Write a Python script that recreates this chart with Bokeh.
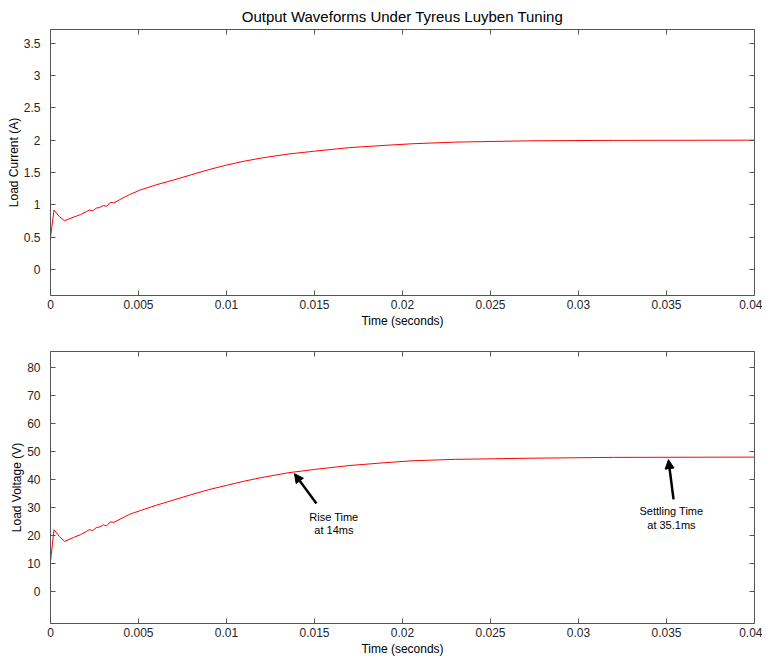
from bokeh.plotting import figure
from bokeh.layouts import column
from bokeh.models import LinearAxis, FixedTicker, Arrow, NormalHead, ColumnDataSource, Range1d
from bokeh.core.properties import value
from bokeh.embed import file_html
from bokeh.resources import INLINE

# ---- data ----
time_s = [0.0, 0.0002, 0.0005, 0.0008, 0.0013, 0.0017, 0.0020, 0.0022, 0.0024, 0.0026,
          0.0028, 0.0030, 0.0032, 0.0034, 0.0036, 0.0040, 0.0045, 0.0051, 0.006, 0.007,
          0.008, 0.009, 0.010, 0.011, 0.012, 0.0135, 0.015, 0.017, 0.019, 0.0206,
          0.023, 0.0272, 0.032, 0.040]
load_current = [0.50, 0.92, 0.82, 0.755, 0.81, 0.85, 0.89, 0.92, 0.91, 0.95,
                0.96, 0.99, 0.98, 1.04, 1.03, 1.09, 1.16, 1.23, 1.31, 1.385,
                1.465, 1.545, 1.615, 1.675, 1.725, 1.785, 1.83, 1.885, 1.92, 1.945,
                1.97, 1.99, 1.997, 2.0]
load_voltage = [10.8, 22.1, 19.7, 17.9, 19.3, 20.3, 21.3, 22.1, 21.8, 22.8,
                23.1, 23.8, 23.5, 24.9, 24.7, 26.0, 27.6, 28.9, 30.8, 32.7,
                34.6, 36.4, 37.9, 39.4, 40.7, 42.4, 43.6, 45.0, 46.0, 46.7,
                47.2, 47.6, 47.9, 48.0]

x_ticks = [0, 0.005, 0.01, 0.015, 0.02, 0.025, 0.03, 0.035, 0.04]
x_tick_labels = ["0", "0.005", "0.01", "0.015", "0.02", "0.025", "0.03", "0.035", "0.04"]
i_ticks = [0, 0.5, 1, 1.5, 2, 2.5, 3, 3.5]
i_tick_labels = ["0", "0.5", "1", "1.5", "2", "2.5", "3", "3.5"]
v_ticks = [0, 10, 20, 30, 40, 50, 60, 70, 80]
v_tick_labels = ["0", "10", "20", "30", "40", "50", "60", "70", "80"]

# annotations: head point, tail point, text position
ann_head_t = [0.01386, 0.03511]
ann_head_v = [42.1, 47.1]
ann_tail_t = [0.01511, 0.0354]
ann_tail_v = [31.4, 32.9]
ann_text_t = [0.0161, 0.03528]
ann_text_v = [24.3, 26.3]
ann_text = ["Rise Time\nat 14ms", "Settling Time\nat 35.1ms"]

FONT = "Liberation Sans"
AXC = "#555555"
TXT = "#262626"


def style(p, xt, xl, yt, yl, ylabel):
    for ax in (p.xaxis[0], p.yaxis[0]):
        ax.axis_line_color = AXC
        ax.major_tick_line_color = AXC
        ax.major_tick_in = 5
        ax.major_tick_out = 0
        ax.minor_tick_line_color = None
        ax.major_label_text_font = FONT
        ax.major_label_text_font_size = "12px"
        ax.major_label_text_color = TXT
        ax.axis_label_text_font = FONT
        ax.axis_label_text_font_size = "12px"
        ax.axis_label_text_font_style = "normal"
        ax.axis_label_text_color = "#000000"
    p.xaxis[0].ticker = FixedTicker(ticks=xt)
    p.xaxis[0].major_label_overrides = {t: l for t, l in zip(xt, xl)}
    p.yaxis[0].ticker = FixedTicker(ticks=yt)
    p.yaxis[0].major_label_overrides = {t: l for t, l in zip(yt, yl)}
    p.xaxis[0].axis_label = "Time (seconds)"
    p.yaxis[0].axis_label = ylabel
    p.xaxis[0].major_label_standoff = 4
    p.xaxis[0].axis_label_standoff = 2
    p.yaxis[0].major_label_standoff = 10
    p.yaxis[0].axis_label_standoff = 0
    for loc, ticks in (("right", yt), ("above", xt)):
        ax = LinearAxis(ticker=FixedTicker(ticks=ticks))
        ax.major_label_text_font_size = "0px"
        ax.major_label_text_color = None
        ax.major_label_standoff = 0
        ax.axis_line_color = AXC
        ax.major_tick_line_color = AXC
        ax.major_tick_in = 5
        ax.major_tick_out = 0
        ax.minor_tick_line_color = None
        p.add_layout(ax, loc)
    p.grid.visible = False
    p.outline_line_color = None
    p.background_fill_color = "white"
    p.border_fill_color = "white"


p1 = figure(frame_width=704, frame_height=266, output_backend="svg", toolbar_location=None,
            x_range=Range1d(0, 0.04), y_range=Range1d(-0.40, 3.71),
            min_border_left=50, min_border_right=8, min_border_top=22, min_border_bottom=40,
            title="Output Waveforms Under Tyreus Luyben Tuning")
p1.title.align = "center"
p1.title.text_font = FONT
p1.title.text_font_size = "15px"
p1.title.text_font_style = "normal"
p1.title.text_color = "#000000"
p1.line(time_s, load_current, line_color="#ff0000", line_width=1)
style(p1, x_ticks, x_tick_labels, i_ticks, i_tick_labels, "Load Current (A)")

p2 = figure(frame_width=704, frame_height=272, output_backend="svg", toolbar_location=None,
            x_range=Range1d(0, 0.04), y_range=Range1d(-11.4, 85.7),
            min_border_left=50, min_border_right=8, min_border_top=16, min_border_bottom=30)
p2.line(time_s, load_voltage, line_color="#ff0000", line_width=1)
style(p2, x_ticks, x_tick_labels, v_ticks, v_tick_labels, "Load Voltage (V)")

for ht, hv, tt, tv in zip(ann_head_t, ann_head_v, ann_tail_t, ann_tail_v):
    p2.add_layout(Arrow(end=NormalHead(size=9, fill_color="black", line_color="black"),
                        x_start=tt, y_start=tv, x_end=ht, y_end=hv,
                        line_color="black", line_width=2.5))
src = ColumnDataSource(dict(x=ann_text_t, y=ann_text_v, t=ann_text))
p2.text(x="x", y="y", text="t", source=src, text_align="center", text_baseline="middle",
        text_font=value(FONT), text_font_size="11px", text_color="#000000",
        text_line_height=1.15)

layout = column(p1, p2, spacing=0)
open("out.html", "w").write(file_html(layout, INLINE))
